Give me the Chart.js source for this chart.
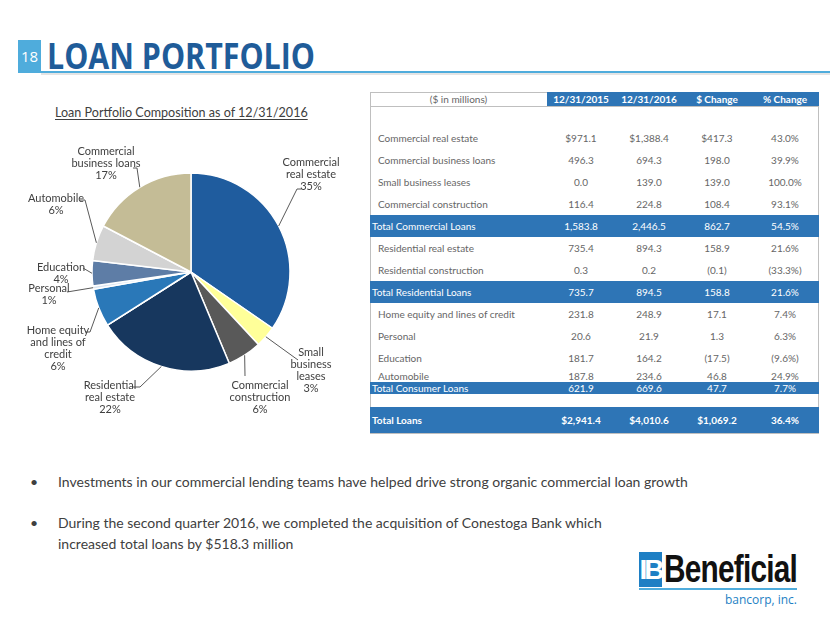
<!DOCTYPE html>
<html><head><meta charset="utf-8">
<script src="https://cdn.jsdelivr.net/npm/chart.js@4/dist/chart.umd.min.js"></script>
<style>
body{margin:0;width:830px;height:623px;background:#fff;position:relative;overflow:hidden;font-family:Lato,"Open Sans",sans-serif;}
.abs{position:absolute;white-space:nowrap;}
.cell{position:absolute;white-space:nowrap;transform:translate(-50%,-50%);}
.lab{position:absolute;white-space:nowrap;transform:translateY(-50%);}
</style></head><body>
<div id="page"></div>
<canvas id="pie" width="365" height="320" style="position:absolute;left:0;top:120px;"></canvas>
<script>
// ---------------- DATA ----------------
const pieCategories = ["Commercial real estate","Small business leases","Commercial construction","Residential real estate","Residential construction","Home equity and lines of credit","Personal","Education","Automobile","Commercial business loans"];
const pieValues = [1388.4,139.0,224.8,894.3,0.2,248.9,21.9,164.2,234.6,694.3];
const pieLabelLines = [["Commercial","real estate"],["Small","business","leases"],["Commercial","construction"],["Residential","real estate"],null,["Home equity","and lines of","credit"],["Personal"],["Education"],["Automobile"],["Commercial","business loans"]];

const tableHeaders = ["($ in millions)","12/31/2015","12/31/2016","$ Change","% Change"];
const tableLabels = ["","Commercial real estate","Commercial business loans","Small business leases","Commercial construction","Total Commercial Loans","Residential real estate","Residential construction","Total Residential Loans","Home equity and lines of credit","Personal","Education","Automobile","Total Consumer Loans","","Total Loans"];
const col2015 = ["","$971.1","496.3","0.0","116.4","1,583.8","735.4","0.3","735.7","231.8","20.6","181.7","187.8","621.9","","$2,941.4"];
const col2016 = ["","$1,388.4","694.3","139.0","224.8","2,446.5","894.3","0.2","894.5","248.9","21.9","164.2","234.6","669.6","","$4,010.6"];
const colChange = ["","$417.3","198.0","139.0","108.4","862.7","158.9","(0.1)","158.8","17.1","1.3","(17.5)","46.8","47.7","","$1,069.2"];
const colPct = ["","43.0%","39.9%","100.0%","93.1%","54.5%","21.6%","(33.3%)","21.6%","7.4%","6.3%","(9.6%)","24.9%","7.7%","","36.4%"];
const rowKinds = ["blank","data","data","data","data","total","data","data","total","data","data","data","data","total","blank","grand"];

const bullets = ["Investments in our commercial lending teams have helped drive strong organic commercial loan growth",
 "During the second quarter 2016, we completed the acquisition of Conestoga Bank which<br>increased total loans by $518.3 million"];

// ---------------- LAYOUT / STYLE ----------------
const sliceColors = ["#1F5C9E","#FFFF99","#595959","#17375E","#17375E","#2A78B8","#DCE6F2","#5E7DA6","#D3D3D3","#C4BC96"];
// label layout: [centerX, firstLineY, leaderEndX, leaderEndY, tailX]  (page coords)
const labelLayout = [
  [311,162,297,189,301],
  [311,352,298,360,null],
  [260,385,245,376,null],
  [110,385,140,387,133],
  null,
  [58,330,90,332,86],
  [49,288,67,292,null],
  [61,267,83,268,null],
  [56,198,85,200,80],
  [106,151,137,168,133]
];
const rowHeights = [21,22,22,22,22,22,22,22,22,22,22,22,13,12,13,26];
const colCenters = [581,649,717,785];
const tableLeft = 370, tableRight = 819, tableTop = 92, headerH = 14, headerSplit = 547;
const BAND = "#2E75B6";
const GRAY = "#666666";

const page = document.getElementById('page');
function add(html){ page.insertAdjacentHTML('beforeend', html); }

// Header
add(`<div class="abs" style="left:18px;top:40px;width:23px;height:33px;background:#4FACDC;"></div>`);
add(`<div class="abs" style="left:18px;top:40px;width:23px;height:33px;line-height:33px;text-align:center;color:#fff;font-size:15px;font-family:'Open Sans';">18</div>`);
add(`<div class="abs" style="left:41px;top:71px;width:789px;height:2px;background:#4FACDC;"></div>`);
add(`<div class="abs" style="left:41px;top:73px;width:789px;height:2px;background:#E4E4E4;"></div>`);
add(`<div class="abs" id="title" style="left:47px;top:34px;font-size:35px;line-height:44px;font-weight:700;color:#1F5C99;font-family:'Open Sans';transform-origin:0 0;">LOAN PORTFOLIO</div>`);
add(`<div class="abs" id="sub" style="left:55px;top:104px;font-size:14px;line-height:17px;color:#404040;text-decoration:underline;text-underline-offset:2px;transform-origin:0 0;">Loan Portfolio Composition as of 12/31/2016</div>`);

// Table
add(`<div class="abs" style="left:${tableLeft}px;top:${tableTop}px;width:${tableRight-tableLeft-2}px;height:${433-tableTop-1}px;border:1px solid #BFBFBF;"></div>`);
add(`<div class="abs" style="left:${headerSplit}px;top:${tableTop}px;width:${tableRight-headerSplit}px;height:${headerH}px;background:${BAND};"></div>`);
add(`<div class="abs" style="left:${tableLeft}px;top:${tableTop+headerH}px;width:${tableRight-tableLeft}px;height:1px;background:#BFBFBF;"></div>`);
add(`<div class="cell" style="left:${(tableLeft+headerSplit)/2}px;top:${tableTop+headerH/2}px;font-size:10px;color:${GRAY};">${tableHeaders[0]}</div>`);
for(let c=1;c<5;c++) add(`<div class="cell" style="left:${colCenters[c-1]}px;top:${tableTop+headerH/2}px;font-size:10px;color:#fff;font-weight:700;">${tableHeaders[c]}</div>`);
let y = tableTop+headerH;
for(let r=0;r<tableLabels.length;r++){
  const h = rowHeights[r], k = rowKinds[r], cy = y+h/2;
  const isBand = k==='total'||k==='grand';
  if(isBand) add(`<div class="abs" style="left:${tableLeft}px;top:${y}px;width:${tableRight-tableLeft}px;height:${h}px;background:${BAND};"></div>`);
  const col = isBand ? '#fff' : GRAY;
  const fw = k==='grand' ? 700 : 400;
  const lx = isBand ? 372 : 378;
  if(tableLabels[r]) add(`<div class="lab" style="left:${lx}px;top:${cy}px;font-size:10px;color:${col};font-weight:${fw};">${tableLabels[r]}</div>`);
  const vals=[col2015[r],col2016[r],colChange[r],colPct[r]];
  vals.forEach((v,i)=>{ if(v) add(`<div class="cell" style="left:${colCenters[i]}px;top:${cy}px;font-size:10px;color:${col};font-weight:${fw};">${v}</div>`); });
  y += h;
}

// Bullets
const bulletY=[482,523];
bullets.forEach((b,i)=>{
  add(`<div class="abs" style="left:30px;top:${bulletY[i]-10}px;font-size:14px;line-height:20px;color:#404040;">&bull;</div>`);
  add(`<div class="abs" style="left:58px;top:${bulletY[i]-10}px;font-size:14px;line-height:20.5px;color:#404040;">${b}</div>`);
});

// Logo
add(`<div class="abs" style="left:639px;top:552px;width:23px;height:35px;background:#1E7FC4;"></div>`);
add(`<div class="abs" style="left:639px;top:552px;width:23px;height:35px;line-height:35px;text-align:center;color:#fff;font-weight:700;font-size:28px;font-family:'Liberation Sans Narrow','Liberation Sans';letter-spacing:-3px;">IB</div>`);
add(`<div class="abs" id="benef" style="left:664px;top:549px;font-size:38px;line-height:40px;font-weight:700;color:#111;font-family:'Liberation Sans Narrow','Liberation Sans';letter-spacing:-1px;transform-origin:0 0;">Beneficial</div>`);
add(`<div class="abs" style="left:639px;top:588px;width:158px;height:2px;background:#4FACDC;"></div>`);
add(`<div class="abs" id="banc" style="left:725px;top:591px;font-size:13px;line-height:17px;color:#1E7FC4;font-family:'Open Sans';transform-origin:0 0;">bancorp, inc.</div>`);

function fitW(id,w){const el=document.getElementById(id);const cw=el.getBoundingClientRect().width;el.style.transform=`scaleX(${w/cw})`;}
fitW('title',268); fitW('benef',133); fitW('banc',72);
(function(){const el=document.getElementById('sub');const cw=el.getBoundingClientRect().width;el.style.fontSize=(14*253/cw)+'px';})();

// Pie
const total = pieValues.reduce((a,b)=>a+b,0);
const CANVAS_X=0, CANVAS_Y=120;
const labelPlugin = {
  id:'pieLabels',
  afterDraw(chart){
    const ctx=chart.ctx; const meta=chart.getDatasetMeta(0);
    ctx.save();
    ctx.font="11px Lato"; ctx.fillStyle="#404040"; ctx.textAlign="center"; ctx.textBaseline="middle";
    ctx.strokeStyle="#595959"; ctx.lineWidth=1;
    meta.data.forEach((arc,i)=>{
      const L=labelLayout[i]; if(!L||!pieLabelLines[i]) return;
      const p=arc.getProps(['x','y','startAngle','endAngle','outerRadius'],true);
      const mid=(p.startAngle+p.endAngle)/2;
      const sx=p.x+Math.cos(mid)*p.outerRadius, sy=p.y+Math.sin(mid)*p.outerRadius;
      ctx.beginPath(); ctx.moveTo(sx,sy); ctx.lineTo(L[2]-CANVAS_X,L[3]-CANVAS_Y);
      if(L[4]!=null) ctx.lineTo(L[4]-CANVAS_X,L[3]-CANVAS_Y);
      ctx.stroke();
      const lines=[...pieLabelLines[i], Math.round(pieValues[i]/total*100)+"%"];
      lines.forEach((t,j)=>ctx.fillText(t,L[0]-CANVAS_X,L[1]-CANVAS_Y+j*12.3));
    });
    ctx.restore();
  }
};
new Chart(document.getElementById('pie'),{
  type:'pie',
  data:{labels:pieCategories,datasets:[{data:pieValues,backgroundColor:sliceColors,borderColor:'#fff',borderWidth:1.5,radius:99}]},
  options:{responsive:false,animation:false,layout:{padding:{left:91,right:74,top:52,bottom:68}},
    plugins:{legend:{display:false},tooltip:{enabled:false}}},
  plugins:[labelPlugin]
});
</script>
</body></html>
